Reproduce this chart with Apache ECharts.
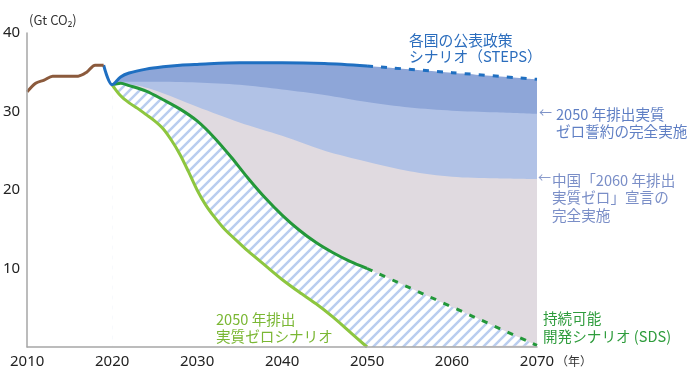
<!DOCTYPE html>
<html><head><meta charset="utf-8">
<script src="https://cdn.jsdelivr.net/npm/echarts@6/dist/echarts.min.js"></script>
<style>html,body{margin:0;padding:0;background:#fff}#c{width:689px;height:380px}</style>
</head><body><div id="c"></div>
<script>
// ---- data ----
const xTicks = [2010, 2020, 2030, 2040, 2050, 2060, 2070];
const yTicks = [0, 10, 20, 30, 40];

const histYears = [2010, 2011, 2012, 2013, 2014, 2015, 2016, 2017, 2018, 2019];
const histVals  = [32.5, 33.6, 34.0, 34.5, 34.5, 34.5, 34.5, 35.0, 35.9, 35.9];

const stepsYears = [2019, 2020, 2021, 2022, 2024, 2026, 2028, 2030, 2035, 2040, 2045, 2050];
const stepsVals  = [35.9, 33.4, 34.4, 34.9, 35.4, 35.7, 35.9, 36.0, 36.2, 36.2, 36.1, 35.8];
const stepsDashYears = [2050, 2060, 2070];
const stepsDashVals  = [35.8, 34.95, 34.1];

const pledgeYears = [2020, 2021, 2025, 2030, 2035, 2040, 2045, 2050, 2055, 2060, 2065, 2070];
const pledgeVals  = [33.4, 33.8, 33.8, 33.7, 33.4, 32.8, 32.1, 31.2, 30.5, 30.1, 29.9, 29.7];

const chinaYears = [2020, 2022, 2025, 2030, 2035, 2040, 2045, 2050, 2055, 2060, 2065, 2070];
const chinaVals  = [33.4, 33.4, 32.7, 30.6, 28.6, 26.9, 25.0, 23.6, 22.4, 21.7, 21.5, 21.4];

const sdsYears = [2020, 2021, 2022, 2024, 2026, 2028, 2030, 2032, 2034, 2036, 2038, 2040, 2042, 2044, 2046, 2048, 2050];
const sdsVals  = [33.4, 33.6, 33.3, 32.6, 31.5, 30.3, 28.8, 26.7, 24.2, 21.5, 19.0, 16.8, 14.9, 13.3, 12.0, 10.9, 10.0];
const sdsDashYears = [2050, 2070];
const sdsDashVals  = [10.0, 0.2];

const nzeYears = [2020, 2021, 2022, 2023, 2024, 2025, 2026, 2027, 2028, 2029, 2030, 2031, 2032, 2033, 2034, 2035, 2036, 2038, 2040, 2042, 2044, 2046, 2048, 2050];
const nzeVals  = [33.4, 32.0, 31.1, 30.4, 29.6, 28.8, 27.8, 26.3, 24.5, 22.3, 20.0, 18.1, 16.6, 15.3, 14.2, 13.2, 12.2, 10.4, 8.6, 7.0, 5.5, 3.8, 1.9, 0];

// ---- helpers ----
const pairs = (xs, ys) => xs.map((x, i) => [x, ys[i]]);
const join = (a, b) => a.concat(b.slice(1));

const stepsArea = join(pairs(stepsYears.slice(1), stepsVals.slice(1)), pairs(stepsDashYears, stepsDashVals));
const sdsArea = join(pairs(sdsYears, sdsVals), pairs(sdsDashYears, sdsDashVals));

// hatch pattern
const pc = document.createElement('canvas');
pc.width = 10; pc.height = 10;
const g = pc.getContext('2d');
g.fillStyle = '#ffffff'; g.fillRect(0, 0, 10, 10);
g.strokeStyle = '#b9cdef'; g.lineWidth = 2.5;
[[-5, 5, 5, -5], [0, 10, 10, 0], [5, 15, 15, 5]].forEach(l => { g.beginPath(); g.moveTo(l[0], l[1]); g.lineTo(l[2], l[3]); g.stroke(); });

const SM = 0.3;
function area(data, color, z) {
  return { type: 'line', data, smooth: SM, symbol: 'none', z, silent: true,
    lineStyle: { width: 0 }, areaStyle: { color, opacity: 1 } };
}
function line(data, color, z, dash) {
  return { type: 'line', data, smooth: SM, symbol: 'none', z, silent: true,
    lineStyle: { width: 3, color, type: dash ? [6, 8] : 'solid', cap: 'butt' } };
}

const chart = echarts.init(document.getElementById('c'), null, { renderer: 'canvas' });
const JP = '"Noto Sans CJK JP", "Noto Sans", sans-serif';
function txt(x, y, text, fill, size, lh) {
  return { type: 'text', z: 50, style: { x, y, text, fill, font: size + 'px ' + JP, lineHeight: lh || size, textAlign: 'left', textVerticalAlign: 'top' } };
}

chart.setOption({
  animation: false,
  grid: { left: 27, right: 152, top: 33, bottom: 33, containLabel: false },
  xAxis: {
    type: 'value', min: xTicks[0], max: xTicks[xTicks.length - 1], interval: 10, z: 10,
    axisLine: { show: true, lineStyle: { color: '#a6a6a6', width: 1.5 } },
    axisTick: { show: false }, splitLine: { show: false },
    axisLabel: { color: '#222', fontSize: 15, margin: 7, fontFamily: '"Noto Sans", sans-serif', formatter: v => String(v) }
  },
  yAxis: {
    type: 'value', min: yTicks[0], max: yTicks[yTicks.length - 1], interval: 10, z: 10,
    axisLine: { show: true, lineStyle: { color: '#a6a6a6', width: 1.5 } },
    axisTick: { show: false }, splitLine: { show: false },
    axisLabel: { color: '#222', fontSize: 15, margin: 7, fontFamily: '"Noto Sans", sans-serif', formatter: v => v === 0 ? '' : String(v) }
  },
  series: [
    area(stepsArea, '#8ea6d8', 2),
    area(pairs(pledgeYears, pledgeVals), '#b1c2e6', 3),
    area(pairs(chinaYears, chinaVals), '#e0dae0', 4),
    area(sdsArea, { image: pc, repeat: 'repeat' }, 5),
    area(pairs(nzeYears, nzeVals), '#ffffff', 6),
    line(pairs(sdsYears, sdsVals), '#23983a', 7),
    line(pairs(sdsDashYears, sdsDashVals), '#23983a', 7, true),
    line(pairs(nzeYears, nzeVals), '#8dc63f', 8),
    line(pairs(stepsYears, stepsVals), '#1f6fc1', 9),
    line(pairs(stepsDashYears, stepsDashVals), '#1f6fc1', 9, true),
    line(pairs(histYears, histVals), '#8b5a3c', 9)
  ],
  graphic: [
    txt(29, 14, '(Gt CO₂)', '#333', 13),
    txt(556, 355, '（年）', '#333', 12),
    txt(409, 31.5, '各国の公表政策\nシナリオ（STEPS）', '#2b6dbd', 14.8, 16.8),
    txt(539, 106, '←', '#7e93c8', 13),
    txt(556, 106.5, '2050 年排出実質\nゼロ誓約の完全実施', '#5f7fc4', 14.6, 16.8),
    txt(538, 171, '←', '#8a9bcc', 13),
    txt(552, 171.5, '中国「2060 年排出\n実質ゼロ」宣言の\n完全実施', '#7a8ec7', 14.6, 17.5),
    txt(216, 311.5, '2050 年排出\n実質ゼロシナリオ', '#7ab733', 14.6, 16.5),
    txt(543, 309.5, '持続可能\n開発シナリオ (SDS)', '#2e9c3c', 14.6, 18.2)
  ]
});
</script></body></html>
